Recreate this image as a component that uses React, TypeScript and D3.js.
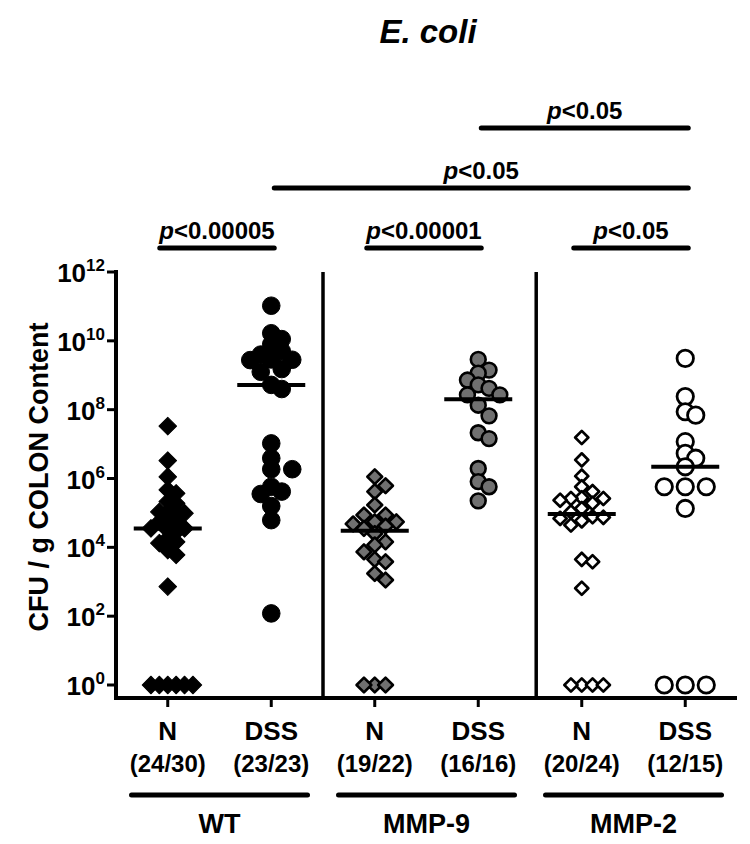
import React from "react";
import * as d3 from "d3";

// ---------------- data ----------------
const chartTitle = "E. coli";
const yAxisTitle = "CFU / g COLON Content";
const categoryNames = ["N", "DSS", "N", "DSS", "N", "DSS"];
const categoryCounts = ["(24/30)", "(23/23)", "(19/22)", "(16/16)", "(20/24)", "(12/15)"];
const groupNames = ["WT", "MMP-9", "MMP-2"];
const yTickExponents = [0, 2, 4, 6, 8, 10, 12];

// log10(CFU / g) values (0 = 10^0 = not detected)
const wtN = [7.52, 6.52, 6.05, 5.67, 5.57, 5.33, 5.28, 5.03, 5.03, 5.03, 4.99, 4.74, 4.74, 4.74,
  4.55, 4.55, 4.50, 4.45, 4.26, 4.16, 4.12, 3.92, 3.78, 2.86, 0, 0, 0, 0, 0, 0];
const wtDSS = [11.02, 10.22, 10.05, 9.9, 9.7, 9.6, 9.46, 9.45, 9.44, 9.18, 9.1, 8.72, 8.6,
  7.02, 6.59, 6.27, 6.27, 5.76, 5.62, 5.55, 5.2, 4.79, 2.08];
const mmp9N = [6.05, 5.79, 5.62, 5.23, 4.94, 4.94, 4.74, 4.74, 4.68, 4.62, 4.55, 4.40, 4.16,
  4.07, 3.87, 3.65, 3.58, 3.24, 3.05, 0, 0, 0];
const mmp9DSS = [9.46, 9.15, 9.06, 8.86, 8.72, 8.62, 8.43, 8.43, 8.13, 7.82, 7.33, 7.16, 6.29,
  5.91, 5.76, 5.35];
const mmp2N = [7.19, 6.54, 6.07, 5.76, 5.62, 5.44, 5.42, 5.42, 5.37, 5.28, 5.13, 5.03, 4.89,
  4.87, 4.84, 4.77, 4.65, 3.65, 3.58, 2.81, 0, 0, 0, 0];
const mmp2DSS = [9.49, 8.38, 7.94, 7.84, 7.07, 6.73, 6.59, 6.34, 5.76, 5.76, 5.76, 5.13, 0, 0, 0];
const seriesValues = [wtN, wtDSS, mmp9N, mmp9DSS, mmp2N, mmp2DSS];

// significance comparisons (category indices)
const comparisonFrom = [0, 2, 4, 1, 3];
const comparisonTo = [1, 3, 5, 5, 5];
const comparisonLevel = [0, 0, 0, 1, 2];
const comparisonP = ["<0.00005", "<0.00001", "<0.05", "<0.05", "<0.05"];

// ---------------- styles ----------------
const FONT = "'Liberation Sans', Arial, sans-serif";
const markerStyles = [
  { shape: "diamond", fill: "#000", stroke: "#000", sw: 1, size: 8.8, step: 4.2, minDist: 8 },
  { shape: "circle", fill: "#000", stroke: "#000", sw: 1, size: 8.8, step: 10.5, minDist: 11 },
  { shape: "diamond", fill: "#707070", stroke: "#000", sw: 2.6, size: 7.4, step: 10.8, minDist: 10.5 },
  { shape: "circle", fill: "#707070", stroke: "#000", sw: 2.6, size: 7.4, step: 10.8, minDist: 11 },
  { shape: "diamond", fill: "#fff", stroke: "#000", sw: 2.7, size: 6.6, step: 5.4, minDist: 10.5 },
  { shape: "circle", fill: "#fff", stroke: "#000", sw: 2.8, size: 8.2, step: 10.5, minDist: 11 },
];

const W = 750;
const H = 844;
const left = 116;
const right = 737;
const plotTop = 272;

const y = d3.scaleLog().domain([1, 1e12]).range([685, plotTop]);
const x = d3.scaleLinear().domain([-0.5, 5.5]).range([left, right]);
const axisY = y(1) + 13;
const separators = [1.5, 3.56];

function swarm(vals: number[], cx: number, step: number, minDist: number) {
  const pts = vals.map((v) => ({ v, y: y(Math.pow(10, v)) })).sort((a, b) => a.y - b.y);
  const placed: { x: number; y: number; v: number }[] = [];
  for (const p of pts) {
    for (let k = 0; k < 60; k++) {
      const off = k === 0 ? 0 : (k % 2 === 1 ? 1 : -1) * Math.ceil(k / 2) * step;
      const px = cx + off;
      if (placed.every((q) => Math.hypot(q.x - px, q.y - p.y) >= minDist)) {
        placed.push({ x: px, y: p.y, v: p.v });
        break;
      }
    }
  }
  return placed;
}

function Marker({ cx, cy, st }: { cx: number; cy: number; st: any }) {
  if (st.shape === "circle") {
    return <circle cx={cx} cy={cy} r={st.size} fill={st.fill} stroke={st.stroke} strokeWidth={st.sw} />;
  }
  const side = st.size * Math.SQRT2;
  const path = d3.symbol(d3.symbolSquare, side * side)() as string;
  return (
    <path d={path} transform={`translate(${cx},${cy}) rotate(45)`} fill={st.fill} stroke={st.stroke}
      strokeWidth={st.sw} strokeLinejoin="round" />
  );
}

export default function App() {
  const medians = seriesValues.map((vals) => d3.median(vals.map((v) => Math.pow(10, v))) as number);
  return (
    <svg width={W} height={H} style={{ position: "absolute", left: 0, top: 0, background: "#fff" }}
      fontFamily={FONT}>
      <rect width={W} height={H} fill="#fff" />
      {/* title */}
      <text x={428} y={43} textAnchor="middle" fontSize={33} fontWeight="bold"
        fontStyle="italic">{chartTitle}</text>

      {/* y axis title */}
      <text transform={`translate(48,${(plotTop + axisY) / 2 - 8}) rotate(-90)`} textAnchor="middle"
        fontSize={27} fontWeight="bold">{yAxisTitle}</text>

      {/* y axis */}
      <line x1={left} x2={left} y1={plotTop - 2} y2={axisY + 2} stroke="#000" strokeWidth={4} />
      {yTickExponents.map((e) => (
        <g key={e}>
          <line x1={left - 9} x2={left} y1={y(Math.pow(10, e))} y2={y(Math.pow(10, e))} stroke="#000"
            strokeWidth={3} />
          <text x={left - 11} y={y(Math.pow(10, e)) + 10} textAnchor="end" fontWeight="bold" fontSize={26}>
            10<tspan fontSize={17} dy={-11}>{e}</tspan>
          </text>
        </g>
      ))}

      {/* x axis */}
      <line x1={left - 2} x2={right} y1={axisY} y2={axisY} stroke="#000" strokeWidth={4} />
      {categoryNames.map((c, i) => (
        <g key={i}>
          <line x1={x(i)} x2={x(i)} y1={axisY} y2={axisY + 9} stroke="#000" strokeWidth={3} />
          <text x={x(i)} y={740} textAnchor="middle" fontWeight="bold" fontSize={26}>{c}</text>
          <text x={x(i)} y={772} textAnchor="middle" fontWeight="bold" fontSize={24}>{categoryCounts[i]}</text>
        </g>
      ))}
      {separators.map((s, i) => (
        <line key={i} x1={x(s)} x2={x(s)} y1={plotTop} y2={axisY} stroke="#000" strokeWidth={3.5} />
      ))}

      {/* group labels */}
      {groupNames.map((g, gi) => {
        const cx = (x(gi * 2) + x(gi * 2 + 1)) / 2;
        return (
          <g key={g}>
            <line x1={cx - 88} x2={cx + 88} y1={795} y2={795} stroke="#000" strokeWidth={5}
              strokeLinecap="round" />
            <text x={cx} y={833} textAnchor="middle" fontWeight="bold" fontSize={27}>{g}</text>
          </g>
        );
      })}

      {/* data */}
      {seriesValues.map((vals, i) => {
        const st = markerStyles[i];
        const pts = swarm(vals, x(i), st.step, st.minDist);
        return (
          <g key={i}>
            {pts.map((p, j) => <Marker key={j} cx={p.x} cy={p.y} st={st} />)}
            <line x1={x(i) - 34} x2={x(i) + 34} y1={y(medians[i])} y2={y(medians[i])} stroke="#000"
              strokeWidth={4} />
          </g>
        );
      })}

      {/* significance bars */}
      {comparisonFrom.map((f, k) => {
        const lvl = comparisonLevel[k];
        const by = plotTop - 24 - lvl * 60;
        const x1 = x(f) + (lvl === 0 ? -8 : 3);
        const x2 = x(comparisonTo[k]) + 3;
        return (
          <g key={k}>
            <line x1={x1} x2={x2} y1={by} y2={by} stroke="#000" strokeWidth={5} strokeLinecap="round" />
            <text x={(x1 + x2) / 2} y={by - 9} textAnchor="middle" fontWeight="bold" fontSize={24}>
              <tspan fontStyle="italic">p</tspan>{comparisonP[k]}
            </text>
          </g>
        );
      })}
    </svg>
  );
}
